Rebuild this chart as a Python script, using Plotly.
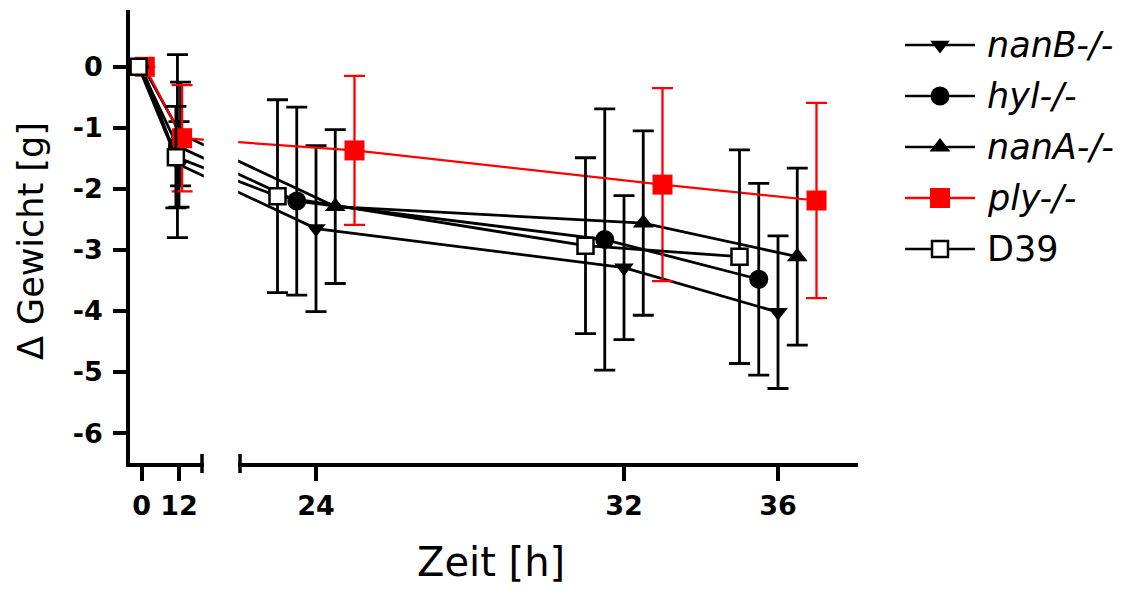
import plotly.graph_objects as go

# ---- data: body-weight change (mean and SD) per strain and time point ----
time_h = [0, 12, 24, 32, 36]

series_names = ["nanB-/-", "hyl-/-", "nanA-/-", "ply-/-", "D39"]

nanB_mean = [0.0, -1.60, -2.65, -3.29, -4.02]
nanB_sd = [0.0, 0.70, 1.36, 1.18, 1.25]

hyl_mean = [0.0, -1.30, -2.20, -2.83, -3.48]
hyl_sd = [0.0, 1.50, 1.54, 2.14, 1.57]

nanA_mean = [0.0, -1.10, -2.29, -2.56, -3.11]
nanA_sd = [0.0, 0.85, 1.26, 1.51, 1.45]

ply_mean = [0.0, -1.17, -1.37, -1.93, -2.19]
ply_sd = [0.0, 0.87, 1.22, 1.58, 1.60]

D39_mean = [0.0, -1.48, -2.12, -2.93, -3.11]
D39_sd = [0.0, 0.83, 1.58, 1.44, 1.75]

x_tick_hours = [0, 12, 24, 32, 36]
x_tick_text = ["0", "12", "24", "32", "36"]
y_tick_vals = [0, -1, -2, -3, -4, -5, -6]
y_tick_text = ["0", "-1", "-2", "-3", "-4", "-5", "-6"]

# ---- figure geometry (pixels) ----
W, H = 1126, 594
PLOT_L, PLOT_R, PLOT_T, PLOT_B = 130, 858, 10, 463
BREAK_L, BREAK_R = 202, 240

# broken time axis: compressed early segment (0-12 h), expanded late segment
EARLY_ORIGIN, EARLY_SCALE = 141.7, 3.108
LATE_ORIGIN, LATE_SCALE = 316.0, 38.5


def to_axis(t):
    """Map hours onto the broken axis (axis units are pixel columns)."""
    if t < 18:
        return EARLY_ORIGIN + EARLY_SCALE * t
    return LATE_ORIGIN + LATE_SCALE * (t - 24)


def px_x(p):
    return p / W


def px_y(p):
    return 1 - p / H


RED = "rgb(255,0,0)"
BLACK = "#000000"

styles = {
    "nanB-/-": dict(mean=nanB_mean, sd=nanB_sd, dodge=0.0, color=BLACK,
                    symbol="triangle-down", size=17, fill=BLACK, lw=2.8, italic=True),
    "hyl-/-": dict(mean=hyl_mean, sd=hyl_sd, dodge=-0.5, color=BLACK,
                   symbol="circle", size=19, fill=BLACK, lw=2.8, italic=True),
    "nanA-/-": dict(mean=nanA_mean, sd=nanA_sd, dodge=0.5, color=BLACK,
                    symbol="triangle-up", size=18, fill=BLACK, lw=2.8, italic=True),
    "ply-/-": dict(mean=ply_mean, sd=ply_sd, dodge=1.0, color=RED,
                   symbol="square", size=20, fill=RED, lw=2.2, italic=True),
    "D39": dict(mean=D39_mean, sd=D39_sd, dodge=-1.0, color=BLACK,
                symbol="square", size=16, fill="white", lw=2.8, italic=False),
}

fig = go.Figure()

for name in series_names:
    s = styles[name]
    fig.add_trace(go.Scatter(
        x=[to_axis(t + s["dodge"]) for t in time_h],
        y=s["mean"],
        mode="lines+markers",
        line=dict(color=s["color"], width=s["lw"]),
        marker=dict(symbol=s["symbol"], size=s["size"], color=s["fill"],
                    line=dict(color=s["color"], width=2.5 if s["fill"] == "white" else 0)),
        error_y=dict(type="data", array=s["sd"], visible=True, color=s["color"],
                     thickness=2.8 if s["color"] == BLACK else 2.3, width=10.5),
        showlegend=False,
        xaxis="x", yaxis="y",
    ))

# ---- legend keys drawn on their own small axes ----
LEG_TOP, LEG_STEP = 45, 51
LEG_Y0, LEG_Y1 = 20, 280
for i, name in enumerate(series_names):
    s = styles[name]
    fig.add_trace(go.Scatter(
        x=[0, 0.5, 1], y=[i, i, i],
        mode="lines+markers",
        line=dict(color=s["color"], width=2.5),
        marker=dict(symbol=s["symbol"], size=s["size"], color=s["fill"],
                    opacity=[0, 1, 0],
                    line=dict(color=s["color"], width=2.5 if s["fill"] == "white" else 0)),
        cliponaxis=False, showlegend=False, hoverinfo="skip",
        xaxis="x2", yaxis="y2",
    ))
    label = f"<i>{name}</i>" if s["italic"] else name
    fig.add_annotation(
        x=1, y=i, xref="x2", yref="y2", text=label, showarrow=False,
        xanchor="left", yanchor="middle", xshift=10,
        font=dict(family="DejaVu Sans", size=35, color=BLACK),
    )

tick_font = dict(family="DejaVu Sans", size=27, color=BLACK, weight="bold")

fig.update_layout(
    width=W, height=H,
    margin=dict(l=0, r=0, t=0, b=0),
    paper_bgcolor="white", plot_bgcolor="white",
    showlegend=False,
    xaxis=dict(
        domain=[px_x(PLOT_L), px_x(PLOT_R)],
        range=[PLOT_L, PLOT_R],
        tickvals=[to_axis(t) for t in x_tick_hours], ticktext=x_tick_text,
        ticks="outside", ticklen=14, tickwidth=3.5, tickcolor=BLACK,
        showline=True, linewidth=3.5, linecolor=BLACK,
        showgrid=False, zeroline=False, tickfont=tick_font,
        ticklabelstandoff=2, anchor="y", automargin=False,
    ),
    yaxis=dict(
        domain=[px_y(PLOT_B), px_y(PLOT_T)],
        range=[-6.49, 0.93],
        tickvals=y_tick_vals, ticktext=y_tick_text,
        ticks="outside", ticklen=13, tickwidth=3.5, tickcolor=BLACK,
        showline=True, linewidth=3.5, linecolor=BLACK,
        showgrid=False, zeroline=False, tickfont=tick_font,
        ticklabelstandoff=5, anchor="x", automargin=False,
    ),
    xaxis2=dict(domain=[px_x(905), px_x(975)], range=[0, 1], visible=False,
                anchor="y2", fixedrange=True),
    yaxis2=dict(domain=[px_y(LEG_Y1), px_y(LEG_Y0)],
                range=[(LEG_Y1 - LEG_TOP) / LEG_STEP, (LEG_Y0 - LEG_TOP) / LEG_STEP],
                visible=False, anchor="x2", fixedrange=True),
)

# axis break: blank the gap, then draw the end caps of both segments
fig.add_shape(type="rect", xref="x", yref="paper",
              x0=BREAK_L + 1.8, x1=BREAK_R - 1.8, y0=px_y(470), y1=px_y(0),
              fillcolor="white", line=dict(width=0), layer="above")
for xb in (BREAK_L, BREAK_R):
    fig.add_shape(type="line", xref="x", yref="paper",
                  x0=xb, x1=xb, y0=px_y(473), y1=px_y(454),
                  line=dict(color=BLACK, width=3.5), layer="above")

# axis titles
fig.add_annotation(x=px_x(491), y=px_y(562), xref="paper", yref="paper",
                   text="Zeit [h]", showarrow=False, xanchor="center", yanchor="middle",
                   font=dict(family="DejaVu Sans", size=40, color=BLACK))
fig.add_annotation(x=px_x(31), y=px_y(241), xref="paper", yref="paper",
                   text="Δ Gewicht [g]", textangle=-90, showarrow=False,
                   xanchor="center", yanchor="middle",
                   font=dict(family="DejaVu Sans", size=35, color=BLACK))

fig.write_html("out.html")
